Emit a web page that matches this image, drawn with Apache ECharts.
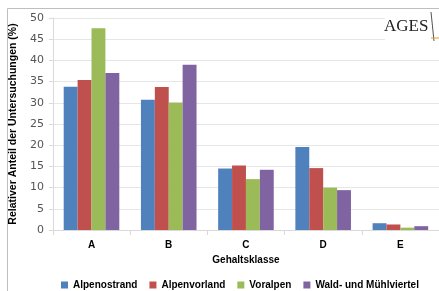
<!DOCTYPE html>
<html lang="de">
<head>
    <meta charset="UTF-8">
    <title>Gehaltsklasse</title>
    <script src="https://cdn.jsdelivr.net/npm/echarts@6/dist/echarts.min.js"></script>
    <style>
        html, body { margin: 0; padding: 0; background: #fff; }
        #chart { width: 439px; height: 291px; }
    </style>
</head>
<body>
<div id="chart"></div>
<script>
    // Daten
    var kategorien = ['A', 'B', 'C', 'D', 'E'];
    var alpenostrand = [33.8, 30.7, 14.5, 19.6, 1.6];
    var alpenvorland = [35.4, 33.7, 15.2, 14.6, 1.3];
    var voralpen = [47.6, 30.1, 12.0, 10.0, 0.55];
    var waldMuehlviertel = [37.0, 39.0, 14.2, 9.4, 0.9];
    var yTicks = [0, 5, 10, 15, 20, 25, 30, 35, 40, 45, 50];

    var farben = ['#4F81BD', '#C0504D', '#9BBB59', '#8064A2'];
    var font = '"Liberation Sans", Arial, sans-serif';

    var myChart = echarts.init(document.getElementById('chart'));

    function bar(name, data) {
        return {
            name: name,
            type: 'bar',
            barGap: '0%',
            barCategoryGap: '28%',
            data: data
        };
    }

    var option = {
        animation: false,
        color: farben,
        textStyle: { fontFamily: font },
        grid: { left: 50, top: 18, width: 391, height: 212 },
        legend: {
            top: 275,
            left: 56,
            width: 420,
            itemWidth: 7,
            itemHeight: 7,
            itemGap: 12,
            icon: 'rect',
            textStyle: { fontSize: 10, fontWeight: 'bold', color: '#000', fontFamily: font },
            data: ['Alpenostrand', 'Alpenvorland', 'Voralpen', 'Wald- und Mühlviertel']
        },
        xAxis: {
            type: 'category',
            data: kategorien,
            name: 'Gehaltsklasse',
            nameLocation: 'middle',
            nameGap: 25,
            nameTextStyle: { fontSize: 10, fontWeight: 'bold', color: '#000' },
            axisLine: { lineStyle: { color: '#d9d9d9' } },
            axisTick: { show: true, length: 5, lineStyle: { color: '#d9d9d9' } },
            axisLabel: { fontSize: 10, fontWeight: 'bold', color: '#000', margin: 10 }
        },
        yAxis: {
            type: 'value',
            min: yTicks[0],
            max: yTicks[yTicks.length - 1],
            interval: 5,
            name: 'Relativer Anteil der Untersuchungen (%)',
            nameLocation: 'middle',
            nameGap: 28,
            nameTextStyle: { fontSize: 10.5, fontWeight: 'bold', color: '#000' },
            axisLine: { show: true, lineStyle: { color: '#d9d9d9' } },
            axisTick: { show: true, length: 4, lineStyle: { color: '#d9d9d9' } },
            axisLabel: { fontSize: 11, color: '#555', margin: 9, fontFamily: '"DejaVu Sans", sans-serif' },
            splitLine: { lineStyle: { color: '#e6e6e6' } }
        },
        graphic: [
            // Rahmen
            { type: 'line', shape: { x1: 7.5, y1: 8.5, x2: 439, y2: 8.5 }, style: { stroke: '#bfbfbf', lineWidth: 1 }, z: 10 },
            { type: 'line', shape: { x1: 7.5, y1: 8.5, x2: 7.5, y2: 291 }, style: { stroke: '#bfbfbf', lineWidth: 1 }, z: 10 },
            // Logo
            { type: 'rect', shape: { x: 385, y: 10, width: 54, height: 32 }, style: { fill: '#fff' }, z: 10 },
            { type: 'text', left: 384, top: 18, style: { text: 'AGES', fontSize: 17, fontFamily: '"Liberation Serif", "DejaVu Serif", serif', fill: '#222' }, z: 11 },
            { type: 'line', shape: { x1: 431, y1: 12, x2: 434, y2: 41 }, style: { stroke: '#555', lineWidth: 1 }, z: 11 },
            { type: 'line', shape: { x1: 431, y1: 38, x2: 439, y2: 38 }, style: { stroke: '#e0a020', lineWidth: 1 }, z: 11 }
        ],
        series: [
            bar('Alpenostrand', alpenostrand),
            bar('Alpenvorland', alpenvorland),
            bar('Voralpen', voralpen),
            bar('Wald- und Mühlviertel', waldMuehlviertel)
        ]
    };

    myChart.setOption(option);
</script>
</body>
</html>
